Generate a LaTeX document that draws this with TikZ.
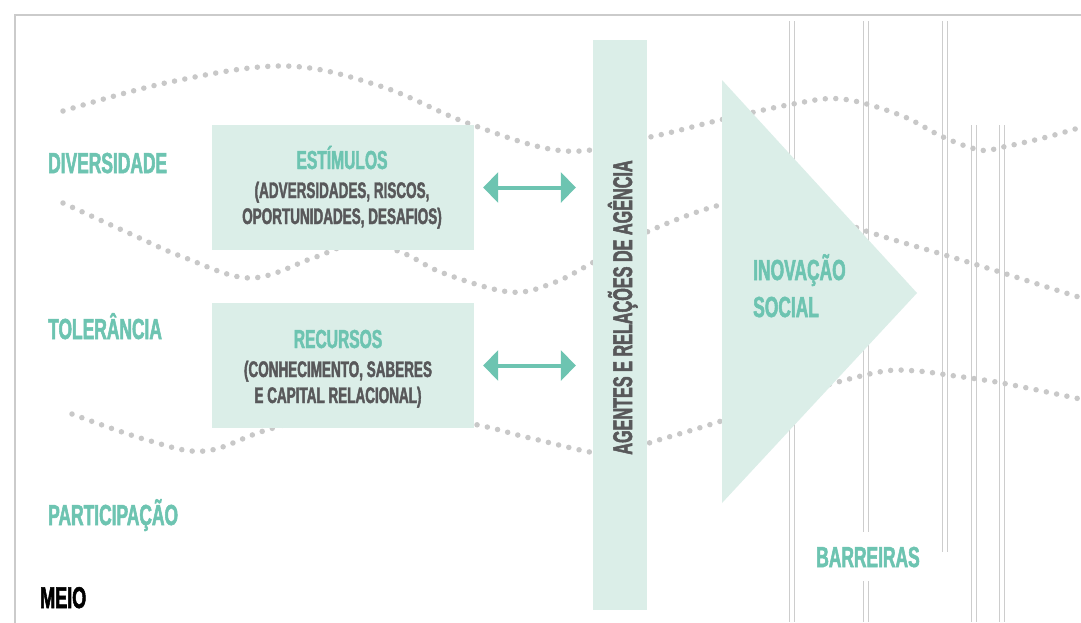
\documentclass[tikz,border=0pt]{standalone}
\usepackage{fontspec}
\newfontfamily\cond{Liberation Sans}[UprightFont={* Bold}, BoldFont={* Bold}, FakeStretch=0.6, FakeBold=1.8]
\usetikzlibrary{arrows.meta}
\definecolor{tealc}{HTML}{6DC4B1}
\definecolor{boxfill}{HTML}{DBEEE8}
\definecolor{txtgrey}{HTML}{58585A}
\definecolor{dotgrey}{HTML}{C8C8C8}
\definecolor{framegrey}{HTML}{CBCBCB}
\definecolor{linegrey}{HTML}{CDCDCD}
\begin{document}
\begin{tikzpicture}[x=1pt,y=-1pt,
  lbl/.style={font=\cond\fontsize{29}{29}\selectfont, text=tealc, anchor=base west, inner sep=0pt},
  boxtitle/.style={font=\cond\fontsize{26}{26}\selectfont, text=tealc, anchor=base, inner sep=0pt},
  boxbody/.style={font=\cond\fontsize{22.5}{22.5}\selectfont, text=txtgrey, anchor=base, inner sep=0pt},
  panel/.style={fill=boxfill, draw=none, inner sep=0pt},
  dotcurve/.style={draw=dotgrey, line width=5.5pt, line cap=round, dash pattern=on 0pt off 10.5pt},
  barline/.style={draw=linegrey, line width=1pt},
  framestyle/.style={draw=framegrey, line width=2.5pt},
  biarrow/.style={draw=tealc, line width=4pt, {Triangle[length=15pt,width=30pt]}-{Triangle[length=15pt,width=30pt]}}
]
\useasboundingbox (0,0) rectangle (1081,622);
\fill[white] (0,0) rectangle (1081,622);
% frame
\draw[framestyle] (15,640) -- (15,15) -- (1100,15);
% barrier lines
\foreach \x/\ya/\yb in {789/21/622, 863/21/532, 863/581/622, 942/21/552, 971/125/622, 999/125/622} {
  \draw[barline] (\x,\ya) -- (\x,\yb);
  \draw[barline] (\x+5,\ya) -- (\x+5,\yb);
}
% dotted curves
\draw[dotcurve] plot[smooth, tension=0.6] coordinates {(63,111) (170,82) (285,66) (380,86) (470,124) (565,151) (650,137) (720,120) (793,104) (842,99) (900,115) (943,137) (980,150) (1003,147) (1047,137) (1085,126)};
\draw[dotcurve] plot[smooth, tension=0.6] coordinates {(63,203) (133,235) (183,257) (250,278) (313,258) (360,242) (403,253) (443,273) (510,292) (553,283) (592,263) (647,232) (720,205) (780,198) (863,230) (945,255) (1000,272) (1050,288) (1085,299)};
\draw[dotcurve] plot[smooth, tension=0.6] coordinates {(72,414) (147,440) (205,451) (270,429) (370,405) (478,425) (530,438) (612,455) (652,442) (715,423) (800,394) (838,382) (885,371) (917,371) (948,375) (1002,383) (1085,400)};
% boxes
\node[panel, minimum width=262pt, minimum height=125pt] (stim) at (343,187.5) {};
\node[panel, minimum width=262pt, minimum height=125pt] (recu) at (343,365.5) {};
\node[panel, minimum width=54pt, minimum height=570pt] (bar) at (620,325) {};
% triangle
\fill[boxfill] (722,80) -- (917,293) -- (722,503) -- cycle;
% arrows
\draw[biarrow] ([xshift=9pt]stim.east) -- ([xshift=-17pt]bar.west |- stim.east);
\draw[biarrow] ([xshift=9pt]recu.east) -- ([xshift=-17pt]bar.west |- recu.east);
% box texts
\node[boxtitle] (stimt) at (342,169) {ESTÍMULOS};
\node[boxbody] (stimb1) at (342,198) {(ADVERSIDADES, RISCOS,};
\node[boxbody] (stimb2) at (342,224) {OPORTUNIDADES, DESAFIOS)};
\node[boxtitle] (recut) at (338,348) {RECURSOS};
\node[boxbody] (recub1) at (338,377) {(CONHECIMENTO, SABERES};
\node[boxbody] (recub2) at (338,403) {E CAPITAL RELACIONAL)};
% vertical text
\node[font=\cond\fontsize{27}{27}\selectfont, text=txtgrey, rotate=90, anchor=base, inner sep=0pt] (bart) at (632,307.5) {AGENTES E RELAÇÕES DE AGÊNCIA};
% labels
\node[lbl] (div) at (48,173) {DIVERSIDADE};
\node[lbl] (tol) at (48,339) {TOLERÂNCIA};
\node[lbl] (par) at (48,525) {PARTICIPAÇÃO};
\node[lbl, text=black, font=\cond\fontsize{30}{30}\selectfont] (meio) at (40,608) {MEIO};
\node[lbl] (inov1) at (753,280) {INOVAÇÃO};
\node[lbl] (inov2) at (753,317) {SOCIAL};
\node[lbl, anchor=base] (barr) at (868,567) {BARREIRAS};
\end{tikzpicture}
\end{document}
